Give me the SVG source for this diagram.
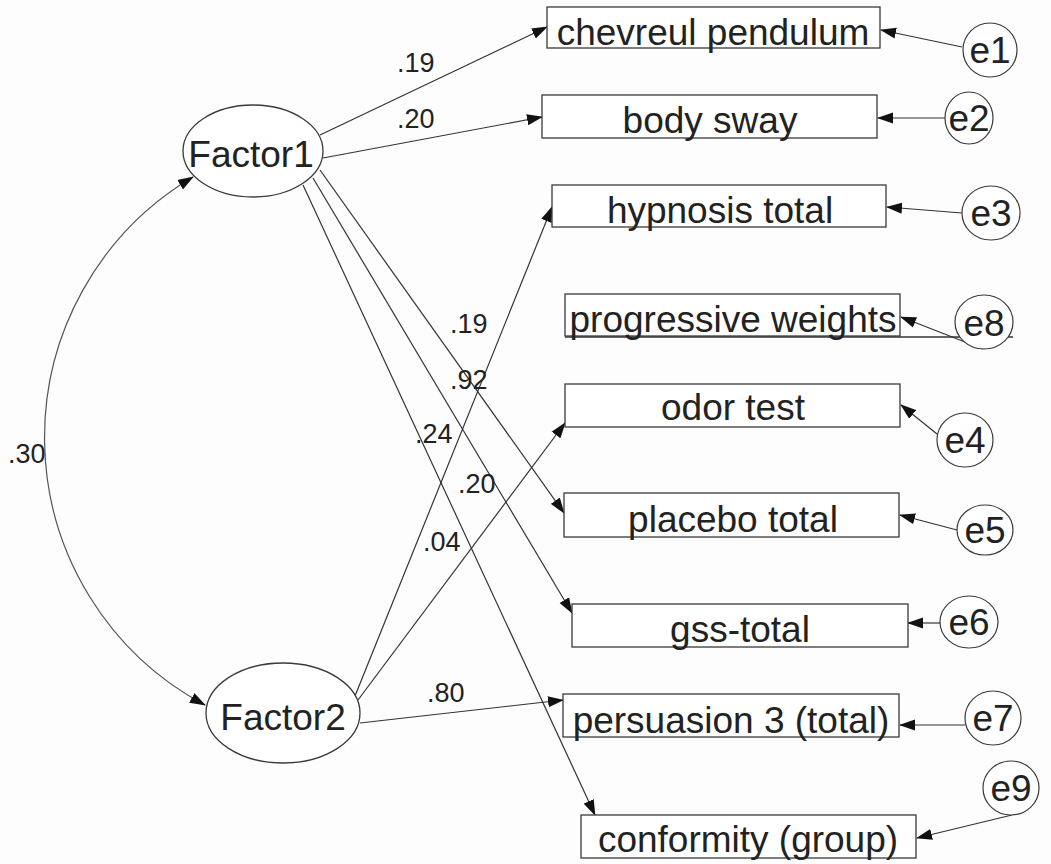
<svg xmlns="http://www.w3.org/2000/svg" width="1051" height="864" viewBox="0 0 1051 864">
<style>
.bg{fill:#fdfdfd}
.box{fill:#fff;stroke:#3a3a3a;stroke-width:1.3}
.lat{fill:#fff;stroke:#3a3a3a;stroke-width:1.3}
.err{fill:#fff;stroke:#3a3a3a;stroke-width:1.2}
.lbl{font-family:"Liberation Sans",Arial,sans-serif;font-size:37px;fill:#222;text-anchor:middle}
.num{font-family:"Liberation Sans",Arial,sans-serif;font-size:27px;fill:#222}
.con{fill:none;stroke:#333;stroke-width:1.2;marker-end:url(#ah)}
.cov{fill:none;stroke:#555;stroke-width:1.2;marker-start:url(#ah);marker-end:url(#ah)}
</style>
<defs>
<marker id="ah" markerUnits="userSpaceOnUse" viewBox="0 0 16 12" refX="15" refY="6" markerWidth="16" markerHeight="12" orient="auto-start-reverse">
<path d="M0,0.5 L16,6 L0,11.5 z" fill="#111"/>
</marker>
</defs>
<rect class="bg" x="0" y="0" width="1051" height="864"/>

<g id="connectors">
<path class="cov" d="M193,177 A303,303 0 0 0 205,705"/>
<line class="con" x1="320" y1="135" x2="547" y2="27"/>
<line class="con" x1="323" y1="158" x2="542" y2="117"/>
<line class="con" x1="320" y1="170" x2="564" y2="513"/>
<line class="con" x1="313" y1="178" x2="572" y2="613"/>
<line class="con" x1="303" y1="185" x2="595" y2="815"/>
<line class="con" x1="355" y1="696" x2="552" y2="207"/>
<line class="con" x1="358" y1="700" x2="565" y2="423"/>
<line class="con" x1="360" y1="723" x2="563" y2="700"/>
<line class="con" x1="962" y1="47" x2="881" y2="30"/>
<line class="con" x1="945" y1="118" x2="878" y2="118"/>
<line class="con" x1="962" y1="213" x2="887" y2="207"/>
<line class="con" x1="983" y1="349" x2="901" y2="317"/>
<line class="con" x1="937" y1="434" x2="901" y2="405"/>
<line class="con" x1="957" y1="530" x2="900" y2="515"/>
<line class="con" x1="940" y1="623" x2="908" y2="623"/>
<line class="con" x1="965" y1="725" x2="900" y2="725"/>
<line class="con" x1="1012" y1="815" x2="917" y2="838"/>
<line x1="565" y1="337" x2="1013" y2="337" stroke="#333" stroke-width="1.5"/>
<text class="num" x="397" y="72">.19</text>
<text class="num" x="397" y="128">.20</text>
<text class="num" x="450" y="333">.19</text>
<text class="num" x="450" y="389">.92</text>
<text class="num" x="415" y="443">.24</text>
<text class="num" x="458" y="493">.20</text>
<text class="num" x="423" y="551">.04</text>
<text class="num" x="427" y="702">.80</text>
<text class="num" x="8" y="463">.30</text>
</g>

<g id="Factor1"><ellipse class="lat" cx="253" cy="151" rx="70" ry="46"/><text class="lbl" x="251" y="167">Factor1</text></g>
<g id="Factor2"><ellipse class="lat" cx="283" cy="713" rx="77" ry="50"/><text class="lbl" x="283" y="730">Factor2</text></g>

<g id="chevreul"><rect class="box" x="547" y="7" width="333" height="41"/><text class="lbl" x="713" y="45">chevreul pendulum</text></g>
<g id="bodysway"><rect class="box" x="542" y="95" width="335" height="43"/><text class="lbl" x="710" y="133">body sway</text></g>
<g id="hypnosis"><rect class="box" x="552" y="185" width="334" height="42"/><text class="lbl" x="720" y="223">hypnosis total</text></g>
<g id="progressive"><rect class="box" x="565" y="294" width="335" height="42"/><text class="lbl" x="733" y="332">progressive weights</text></g>
<g id="odor"><rect class="box" x="565" y="384" width="335" height="43"/><text class="lbl" x="733" y="420">odor test</text></g>
<g id="placebo"><rect class="box" x="564" y="493" width="335" height="44"/><text class="lbl" x="733" y="532">placebo total</text></g>
<g id="gss"><rect class="box" x="572" y="604" width="336" height="43"/><text class="lbl" x="740" y="642">gss-total</text></g>
<g id="persuasion"><rect class="box" x="563" y="694" width="336" height="43"/><text class="lbl" x="731" y="733">persuasion 3 (total)</text></g>
<g id="conformity"><rect class="box" x="581" y="815" width="335" height="43"/><text class="lbl" x="748" y="852">conformity (group)</text></g>

<g id="e1"><ellipse class="err" cx="990" cy="50" rx="27" ry="27"/><text class="lbl" x="990" y="63">e1</text></g>
<g id="e2"><ellipse class="err" cx="969" cy="118" rx="24" ry="26"/><text class="lbl" x="969" y="131">e2</text></g>
<g id="e3"><ellipse class="err" cx="991" cy="213" rx="29" ry="27"/><text class="lbl" x="991" y="226">e3</text></g>
<g id="e8"><ellipse class="err" cx="984" cy="322" rx="29" ry="27"/><text class="lbl" x="984" y="336">e8</text></g>
<g id="e4"><ellipse class="err" cx="965" cy="440" rx="28" ry="27"/><text class="lbl" x="965" y="453">e4</text></g>
<g id="e5"><ellipse class="err" cx="985" cy="530" rx="28" ry="25"/><text class="lbl" x="985" y="543">e5</text></g>
<g id="e6"><ellipse class="err" cx="969" cy="622" rx="29" ry="26"/><text class="lbl" x="969" y="635">e6</text></g>
<g id="e7"><ellipse class="err" cx="993" cy="718" rx="28" ry="27"/><text class="lbl" x="993" y="731">e7</text></g>
<g id="e9"><ellipse class="err" cx="1011" cy="788" rx="28" ry="27"/><text class="lbl" x="1011" y="801">e9</text></g>
</svg>
